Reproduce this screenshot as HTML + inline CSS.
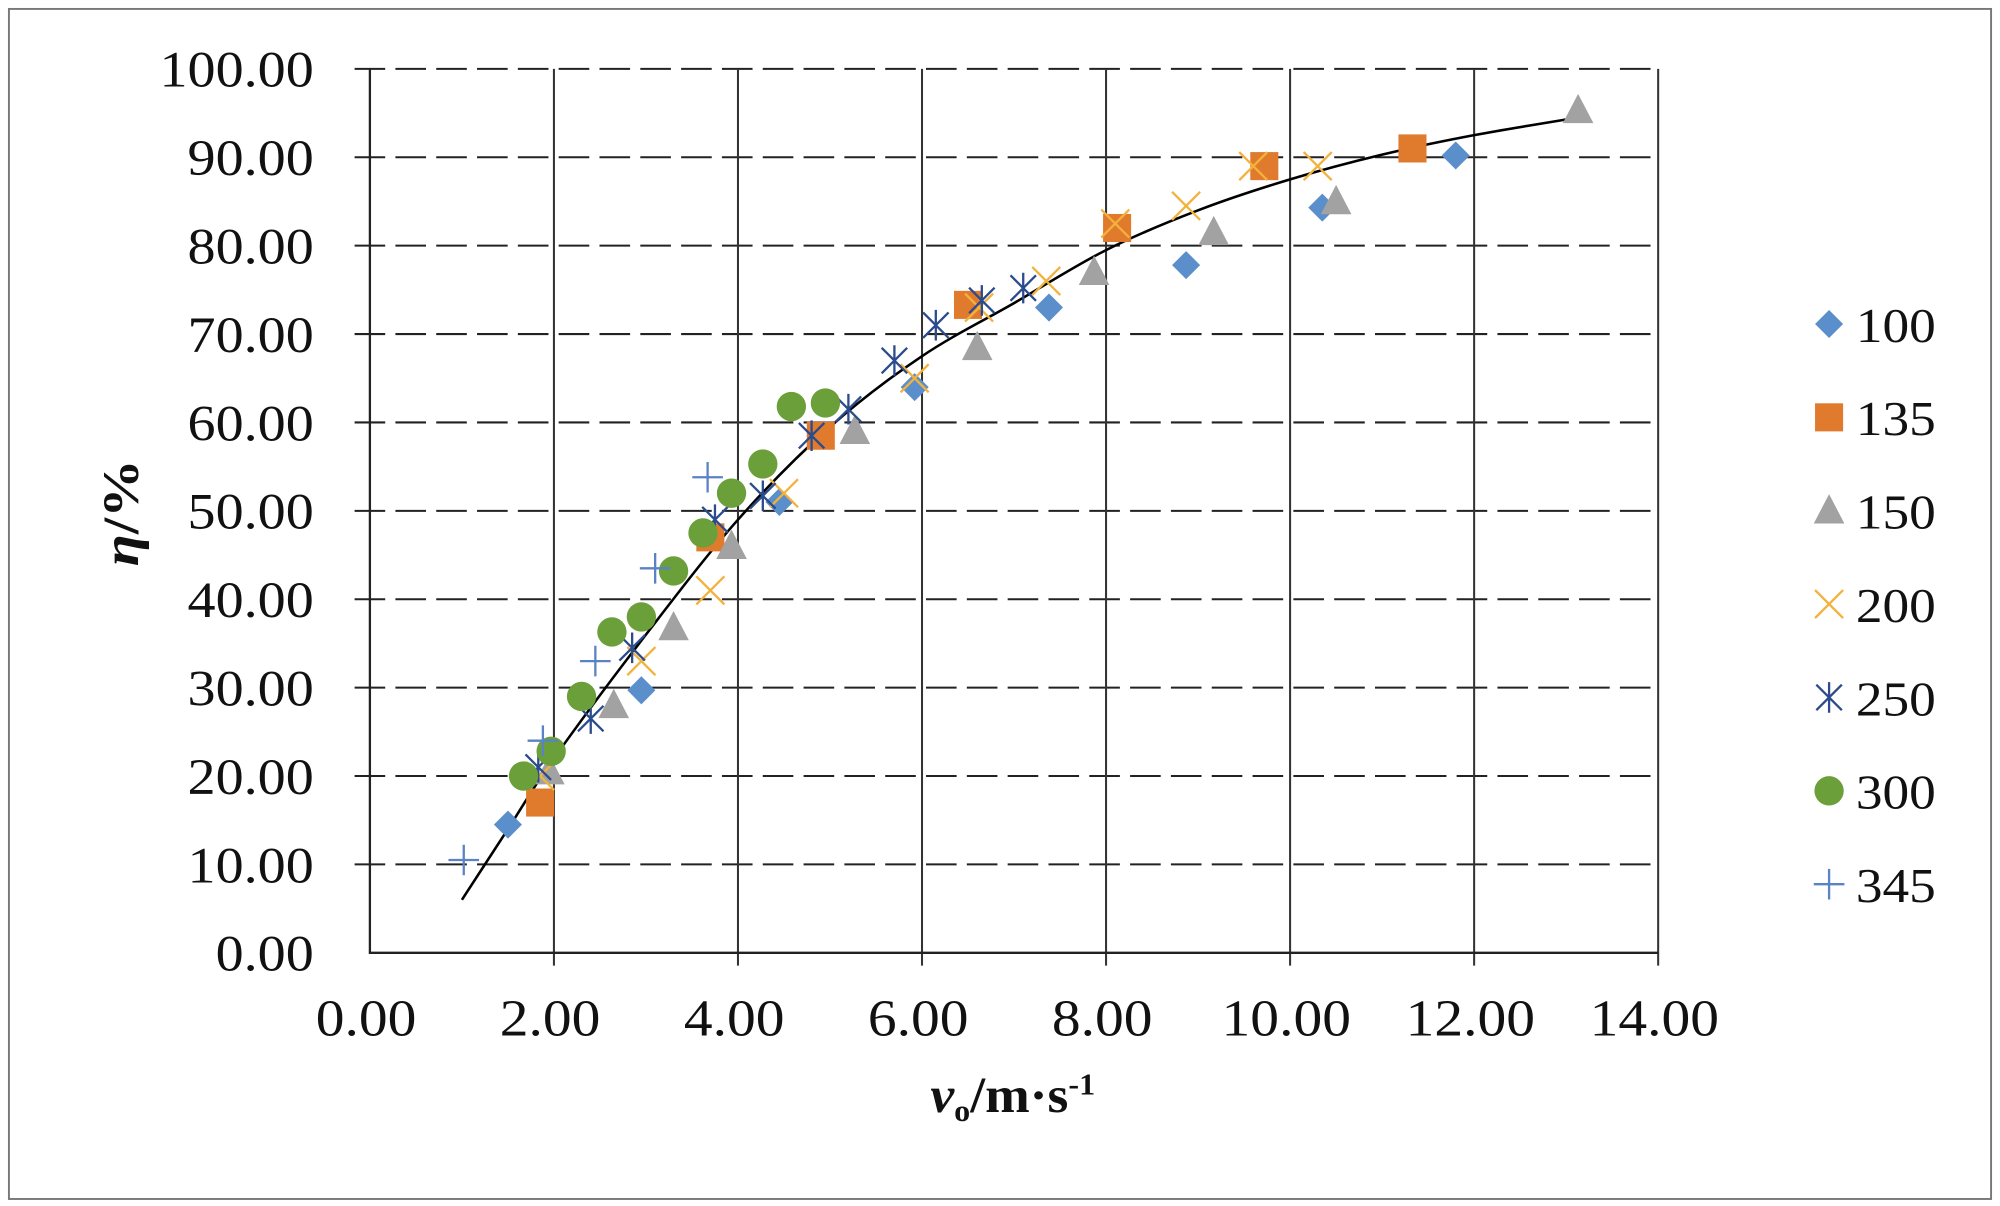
<!DOCTYPE html>
<html><head><meta charset="utf-8"><style>
html,body{margin:0;padding:0;background:#fff;}
svg{display:block;}
text{font-family:"Liberation Serif",serif;fill:#111;}
</style></head><body>
<svg id="chart" width="2000" height="1206" viewBox="0 0 1568 945.5" xmlns="http://www.w3.org/2000/svg">
<rect x="7" y="7" width="1554" height="933" fill="#fff" stroke="#777" stroke-width="1.5"/>
<g id="grid"></g><g id="axes"></g><g id="trend"></g><g id="marks"></g><g id="legend"></g>
<text transform="translate(794,872) scale(1.05,1)" text-anchor="middle" font-size="40" font-weight="bold"><tspan font-style="italic">v</tspan><tspan font-size="24" dy="7">o</tspan><tspan dy="-7">/m·s</tspan><tspan font-size="24" dy="-14">-1</tspan></text>
<text transform="translate(108,402) rotate(-90) scale(1.15,1)" text-anchor="middle" font-size="40" font-weight="bold"><tspan font-style="italic">η</tspan>/%</text>
</svg>
<script>
const xTicks=[0,2,4,6,8,10,12,14];
const yTicks=[0,10,20,30,40,50,60,70,80,90,100];
const seriesNames=['100','135','150','200','250','300','345'];
const s100x=[1.5,2.95,4.45,5.92,7.38,8.87,10.35,11.8];
const s100y=[14.5,29.7,51,64,73,77.8,84.3,90.2];
const s135x=[1.85,3.7,4.9,6.5,8.12,9.72,11.33];
const s135y=[17,47,58.5,73.3,82,89,91];
const s150x=[1.95,2.65,3.3,3.93,5.27,6.6,7.87,9.17,10.5,13.13];
const s150y=[20.5,28,36.8,46,59,68.5,77,81.5,85,95.3];
const s200x=[1.85,2.95,3.7,4.5,5.92,6.62,7.35,8.1,8.87,9.6,10.3];
const s200y=[20,33,41,52,65,73,76,82.5,84.5,89,89];
const s250x=[1.83,2.4,2.85,3.75,4.27,4.8,5.2,5.7,6.15,6.65,7.1];
const s250y=[21,26.5,34.5,49,51.7,58.5,61.5,67,71,73.8,75.2];
const s300x=[1.67,1.97,2.3,2.63,2.95,3.3,3.62,3.93,4.27,4.58,4.95];
const s300y=[20,22.8,29,36.3,38,43.2,47.5,52,55.3,61.8,62.2];
const s345x=[1.02,1.88,2.45,3.1,3.67];
const s345y=[10.5,24,33,43.5,53.8];
const trendX=[1.0,1.5,2,3,4,5,6,7,8,9,10,11,12,13.13];
const trendY=[6,14,22,36,49,59.5,67.5,73.5,79.5,84,87.5,90.3,92.5,94.5];

const NS='http://www.w3.org/2000/svg';
const X0=290,X1=1300,Y0=747,Y1=54;
const sx=v=>X0+(v-0)/(14-0)*(X1-X0);
const sy=v=>Y0-(v-0)/(100-0)*(Y0-Y1);
function el(tag,attrs,parent){const e=document.createElementNS(NS,tag);for(const k in attrs)e.setAttribute(k,attrs[k]);parent.appendChild(e);return e;}
const grid=document.getElementById('grid'),axes=document.getElementById('axes'),marks=document.getElementById('marks'),legend=document.getElementById('legend'),trend=document.getElementById('trend');
yTicks.forEach(t=>{
  if(t>0){const l=el('line',{x1:X0-12,x2:X1,y1:sy(t),y2:sy(t),stroke:'#222','stroke-width':1.6,'stroke-dasharray':'24 8'},grid);
  
  }
  const tx=el('text',{transform:`translate(246,${sy(t)+14}) scale(1.1,1)`,'text-anchor':'end','font-size':40},axes);tx.textContent=t.toFixed(2);
  
  
});
xTicks.forEach(t=>{
  if(t>0){const l=el('line',{x1:sx(t),x2:sx(t),y1:Y1,y2:Y0+10,stroke:'#333','stroke-width':1.6},grid);
  
  }
  const tx=el('text',{transform:`translate(${sx(t)-3},812) scale(1.1,1)`,'text-anchor':'middle','font-size':41},axes);tx.textContent=t.toFixed(2);
  
  
});
const ax=el('path',{d:`M${X0},${Y1} V${Y0} H${X1}`,fill:'none',stroke:'#222','stroke-width':1.8},axes);


const P=trendX.map((x,i)=>[sx(x),sy(trendY[i])]);
let d=`M${P[0][0]},${P[0][1]}`;
for(let i=0;i<P.length-1;i++){const p0=P[Math.max(0,i-1)],p1=P[i],p2=P[i+1],p3=P[Math.min(P.length-1,i+2)];
 d+=` C${p1[0]+(p2[0]-p0[0])/6},${p1[1]+(p2[1]-p0[1])/6} ${p2[0]-(p3[0]-p1[0])/6},${p2[1]-(p3[1]-p1[1])/6} ${p2[0]},${p2[1]}`;}
const tl=el('path',{d:d,fill:'none',stroke:'#000','stroke-width':2},trend);



const styles=[
 {c:'#5b8fcb',shape:'diamond'},{c:'#e07a2c',shape:'square'},{c:'#a2a2a2',shape:'triangle'},
 {c:'#f2b23c',shape:'x'},{c:'#2b4b8c',shape:'star'},{c:'#6a9f3a',shape:'circle'},{c:'#5a82c4',shape:'plus'}];
function marker(shape,c,x,y,p){
  const r=11;
  switch(shape){
   case 'diamond':return el('path',{d:`M${x},${y-r} L${x+r},${y} L${x},${y+r} L${x-r},${y}Z`,fill:c},p);
   case 'square':return el('rect',{x:x-r,y:y-r,width:2*r,height:2*r,fill:c},p);
   case 'triangle':return el('path',{d:`M${x},${y-13} L${x+12},${y+10} L${x-12},${y+10}Z`,fill:c},p);
   case 'circle':return el('circle',{cx:x,cy:y,r:11.5,fill:c},p);
   case 'x':return el('path',{d:`M${x-11},${y-11} L${x+11},${y+11} M${x+11},${y-11} L${x-11},${y+11}`,stroke:c,'stroke-width':1.8,fill:'none'},p);
   case 'star':return el('path',{d:`M${x-10},${y-10} L${x+10},${y+10} M${x+10},${y-10} L${x-10},${y+10} M${x},${y-12} L${x},${y+12}`,stroke:c,'stroke-width':1.8,fill:'none'},p);
   case 'plus':return el('path',{d:`M${x-12},${y} L${x+12},${y} M${x},${y-12} L${x},${y+12}`,stroke:c,'stroke-width':1.8,fill:'none'},p);
  }
}
const data=[[s100x,s100y],[s135x,s135y],[s150x,s150y],[s200x,s200y],[s250x,s250y],[s300x,s300y],[s345x,s345y]];
data.forEach((s,k)=>{
  s[0].forEach((x,i)=>{const m=marker(styles[k].shape,styles[k].c,sx(x),sy(s[1][i]),marks);
    
    });
  const ly=254+k*73.2;
  const lm=marker(styles[k].shape,styles[k].c,1434,ly,legend);
  
  
  const t=el('text',{transform:`translate(1455,${ly+14}) scale(1.1,1)`,'font-size':38},legend);t.textContent=seriesNames[k];
  
  
});
</script>
</body></html>
